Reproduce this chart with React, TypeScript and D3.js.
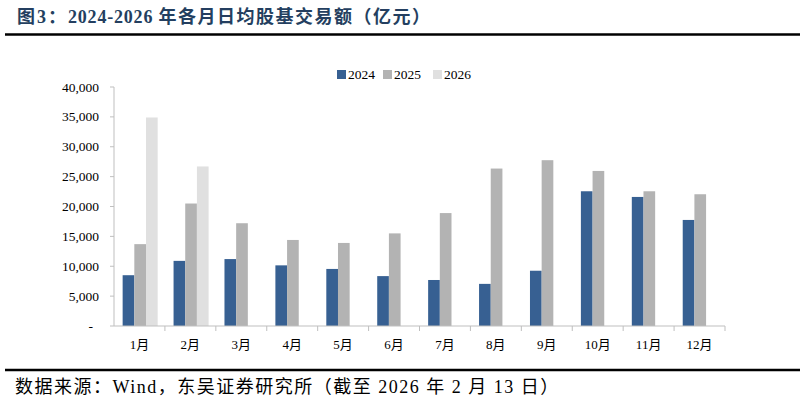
import { useEffect, useRef } from "react";
import * as d3 from "d3";

const months = ["1月", "2月", "3月", "4月", "5月", "6月", "7月", "8月", "9月", "10月", "11月", "12月"];
const series = ["2024", "2025", "2026"];
const values2024 = [8500, 10900, 11200, 10150, 9550, 8350, 7700, 7050, 9250, 22550, 21600, 17750];
const values2025 = [13700, 20500, 17200, 14400, 13900, 15500, 18900, 26350, 27750, 25950, 22550, 22050];
const values2026 = [34900, 26700, null, null, null, null, null, null, null, null, null, null];
const yTicks = [0, 5000, 10000, 15000, 20000, 25000, 30000, 35000, 40000];
const colors = ["#376092", "#b3b3b3", "#e0e0e0"];

const W = 805;
const H = 403;

export default function App() {
  const ref = useRef<SVGSVGElement | null>(null);

  useEffect(() => {
    const svg = d3.select(ref.current);
    svg.selectAll("*").remove();

    const serif = "'Liberation Serif', 'Times New Roman', 'Noto Sans CJK SC', serif";
    const margin = { left: 114, right: 80, top: 87, bottom: 77 };

    // title + rules
    const title = svg.append("text")
      .attr("x", 17).attr("y", 23)
      .attr("font-family", serif).attr("font-weight", "bold")
      .attr("font-size", 18).attr("fill", "#243f60");
    title.append("tspan").attr("letter-spacing", 2).text("图3：");
    title.append("tspan").attr("letter-spacing", 0.8).text("2024-2026 ");
    title.append("tspan").attr("letter-spacing", 1.5).text("年各月日均股基交易额（亿元）");

    svg.append("line").attr("x1", 5).attr("x2", 800).attr("y1", 34.5).attr("y2", 34.5)
      .attr("stroke", "#000").attr("stroke-width", 2.5);
    svg.append("line").attr("x1", 5).attr("x2", 800).attr("y1", 370).attr("y2", 370)
      .attr("stroke", "#000").attr("stroke-width", 2.5);
    svg.append("text")
      .attr("x", 15).attr("y", 393)
      .attr("font-family", serif).attr("font-size", 18).attr("fill", "#000")
      .attr("letter-spacing", 1.5)
      .text("数据来源：Wind，东吴证券研究所（截至 2026 年 2 月 13 日）");

    const x = d3.scaleBand<string>()
      .domain(months)
      .range([margin.left, W - margin.right]);
    const xs = d3.scaleBand<string>()
      .domain(series)
      .range([0, x.bandwidth()])
      .paddingOuter(0.68)
      .paddingInner(0);
    const y = d3.scaleLinear()
      .domain([0, 40000])
      .range([H - margin.bottom, margin.top]);

    const data = [values2024, values2025, values2026];

    const g = svg.append("g");
    data.forEach((vals, si) => {
      g.selectAll(`rect.s${si}`)
        .data(vals.map((v, i) => ({ m: months[i], v })).filter((d) => d.v !== null))
        .enter()
        .append("rect")
        .attr("x", (d) => (x(d.m) as number) + (xs(series[si]) as number) + 0.7)
        .attr("y", (d) => y(d.v as number))
        .attr("width", xs.bandwidth())
        .attr("height", (d) => y(0) - y(d.v as number))
        .attr("fill", colors[si]);
    });

    // y axis
    const yAxis = svg.append("g").attr("transform", `translate(${margin.left},0)`);
    yAxis.append("line").attr("x1", 0).attr("x2", 0).attr("y1", y(0)).attr("y2", y(40000))
      .attr("stroke", "#bfbfbf");
    yTicks.forEach((t) => {
      yAxis.append("line").attr("x1", -4).attr("x2", 0).attr("y1", y(t)).attr("y2", y(t))
        .attr("stroke", "#bfbfbf");
      yAxis.append("text")
        .attr("x", t === 0 ? -21 : -15).attr("y", y(t) + 4.5)
        .attr("text-anchor", "end")
        .attr("font-family", serif).attr("font-size", 13.5).attr("fill", "#000")
        .text(t === 0 ? "-" : d3.format(",")(t));
    });

    // x axis
    const xAxis = svg.append("g");
    xAxis.append("line").attr("x1", margin.left).attr("x2", W - margin.right)
      .attr("y1", y(0)).attr("y2", y(0)).attr("stroke", "#bfbfbf");
    months.forEach((m, i) => {
      const x0 = x(m) as number;
      if (i > 0) {
        xAxis.append("line").attr("x1", x0).attr("x2", x0).attr("y1", y(0)).attr("y2", y(0) + 5)
          .attr("stroke", "#bfbfbf");
      }
      xAxis.append("text")
        .attr("x", x0 + x.bandwidth() / 2).attr("y", y(0) + 23)
        .attr("text-anchor", "middle")
        .attr("font-family", serif).attr("font-size", 13).attr("fill", "#000")
        .text(m);
    });
    xAxis.append("line").attr("x1", W - margin.right).attr("x2", W - margin.right)
      .attr("y1", y(0)).attr("y2", y(0) + 5).attr("stroke", "#bfbfbf");

    // legend
    const legendX = [337, 383, 433];
    series.forEach((s, i) => {
      svg.append("rect").attr("x", legendX[i]).attr("y", 70).attr("width", 9).attr("height", 9)
        .attr("fill", colors[i]);
      svg.append("text").attr("x", legendX[i] + 11).attr("y", 79)
        .attr("font-family", serif).attr("font-size", 13.5).attr("fill", "#000")
        .text(s);
    });
  }, []);

  return (
    <svg
      ref={ref}
      width={W}
      height={H}
      style={{ position: "absolute", left: 0, top: 0, background: "#fff" }}
    />
  );
}
